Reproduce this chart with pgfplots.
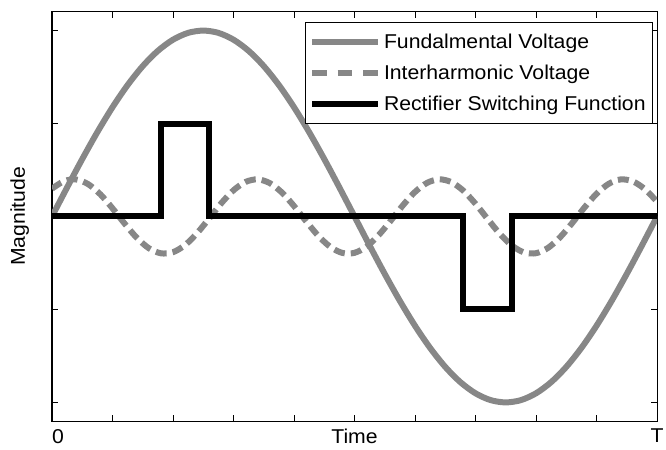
\documentclass[border=0pt]{standalone}
\usepackage{fontspec}
\setmainfont{Liberation Sans}[FakeStretch=1.06]
\usepackage{pgfplots}
\pgfplotsset{compat=1.18}
\definecolor{lgray}{RGB}{135,135,135}

\begin{document}
\begin{tikzpicture}
\path[use as bounding box] (-39pt,-21pt) rectangle (460.5pt,315.75pt);
\begin{axis}[
  at={(0,0)}, anchor=south west,
  scale only axis, width=453.75pt, height=306.75pt,
  xmin=0, xmax=1, ymin=-2.2, ymax=2.2,
  xtick={0,0.1,0.2,0.3,0.4,0.5,0.6,0.7,0.8,0.9,1},
  xticklabels={\makebox[0pt][l]{0},,,,,Time,,,,,T},
  ytick={-2,-1,0,1,2}, yticklabels={},
  tick align=inside, major tick length=4.5pt,
  tick style={black, line width=0.75pt},
  axis line style={line width=0.75pt},
  x tick label style={font=\fontsize{15}{17}\selectfont, yshift=-2.5pt},
  /pgf/number format/assume math mode=true,
  ylabel={Magnitude},
  ylabel style={font=\fontsize{15}{17}\selectfont, at={(axis description cs:-0.03,0.5)}, anchor=south},
  legend style={at={(axis description cs:0.993,0.976)}, anchor=north east,
    font=\fontsize{15}{17}\selectfont, row sep=7pt, inner xsep=3pt, inner ysep=6.5pt,
    draw=black, line width=0.75pt},
  legend cell align=left,
  legend image code/.code={\draw[#1] (0pt,0pt) -- (49.5pt,0pt);},
]
% fundamental voltage
\addplot[lgray, line width=4.5pt, smooth] coordinates {
  (0,0) (0.025,0.3129) (0.05,0.6180) (0.075,0.9080) (0.1,1.1756)
  (0.125,1.4142) (0.15,1.6180) (0.175,1.7820) (0.2,1.9021) (0.225,1.9754)
  (0.25,2) (0.275,1.9754) (0.3,1.9021) (0.325,1.7820) (0.35,1.6180)
  (0.375,1.4142) (0.4,1.1756) (0.425,0.9080) (0.45,0.6180) (0.475,0.3129)
  (0.5,0) (0.525,-0.3129) (0.55,-0.6180) (0.575,-0.9080) (0.6,-1.1756)
  (0.625,-1.4142) (0.65,-1.6180) (0.675,-1.7820) (0.7,-1.9021) (0.725,-1.9754)
  (0.75,-2) (0.775,-1.9754) (0.8,-1.9021) (0.825,-1.7820) (0.85,-1.6180)
  (0.875,-1.4142) (0.9,-1.1756) (0.925,-0.9080) (0.95,-0.6180) (0.975,-0.3129)
  (1,0)
};
\addlegendentry{Fundalmental Voltage}
% interharmonic voltage
\addplot[lgray, line width=4.5pt, smooth, dash pattern=on 8.25pt off 4.5pt,
  legend image post style={dash pattern=on 11pt off 8pt}] coordinates {
  (0,0.299) (0.02,0.381) (0.04,0.398) (0.06,0.347) (0.08,0.238)
  (0.10,0.088) (0.12,-0.076) (0.14,-0.228) (0.16,-0.341) (0.18,-0.396)
  (0.20,-0.384) (0.22,-0.307) (0.24,-0.178) (0.26,-0.019) (0.28,0.144)
  (0.30,0.282) (0.32,0.372) (0.34,0.400) (0.36,0.359) (0.38,0.258)
  (0.40,0.113) (0.42,-0.051) (0.44,-0.207) (0.46,-0.327) (0.48,-0.392)
  (0.50,-0.391) (0.52,-0.323) (0.54,-0.200) (0.56,-0.044) (0.58,0.120)
  (0.60,0.264) (0.62,0.362) (0.64,0.400) (0.66,0.370) (0.68,0.277)
  (0.70,0.137) (0.72,-0.026) (0.74,-0.185) (0.76,-0.312) (0.78,-0.386)
  (0.80,-0.395) (0.82,-0.337) (0.84,-0.222) (0.86,-0.069) (0.88,0.096)
  (0.90,0.244) (0.92,0.351) (0.94,0.399) (0.96,0.378) (0.98,0.294)
  (1,0.160)
};
\addlegendentry{Interharmonic Voltage}
% rectifier switching function
\addplot[black, line width=4.5pt] coordinates {
  (0,0) (0.18,0) (0.18,1) (0.26,1) (0.26,0) (0.68,0) (0.68,-1) (0.76,-1) (0.76,0) (1,0)
};
\addlegendentry{Rectifier Switching Function}
\end{axis}
\end{tikzpicture}
\end{document}
